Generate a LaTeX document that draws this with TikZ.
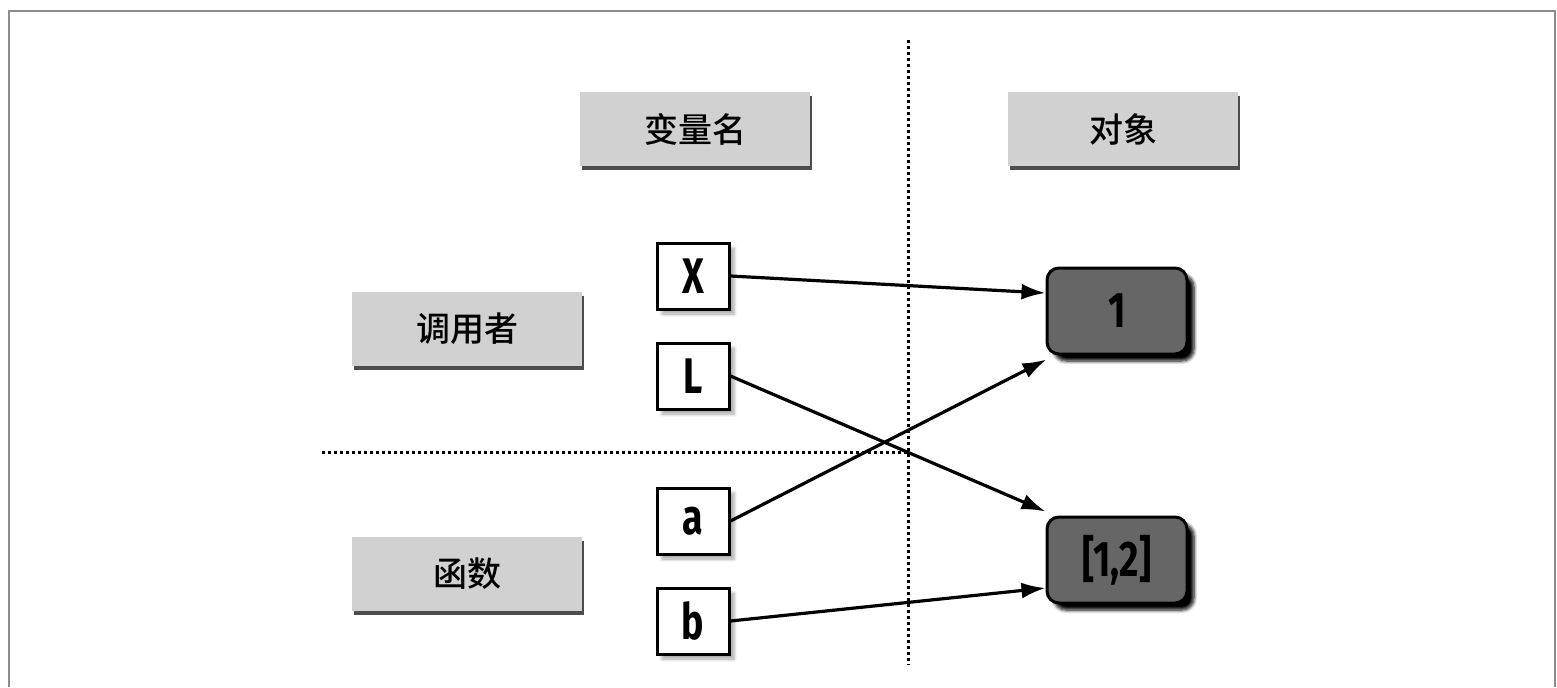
\documentclass[tikz,border=0pt]{standalone}
\usepackage{fontspec}
\newfontfamily\cjk{Noto Sans CJK SC Medium}
\newfontfamily\namefont{Fira Sans Bold}[FakeStretch=0.75]
\usetikzlibrary{arrows.meta,shadows,shadows.blur}
\tikzset{
  headbox/.style={draw=none,fill=black!18,minimum width=115pt,minimum height=37pt,
    font=\cjk\fontsize{17}{20}\selectfont,
    drop shadow={shadow xshift=1.2pt,shadow yshift=-1.8pt,fill=black!70,opacity=1}},
  namebox/.style={draw,line width=1.5pt,fill=white,minimum width=36pt,minimum height=33pt,
    inner sep=0pt,font=\namefont\fontsize{25}{28}\selectfont,
    blur shadow={shadow xshift=2.5pt,shadow yshift=-2.5pt,shadow blur steps=5,shadow opacity=35}},
  objbox/.style={draw,line width=1.5pt,fill=black!60,rounded corners=6pt,minimum width=70pt,
    minimum height=43pt,inner sep=0pt,font=\namefont\fontsize{25}{28}\selectfont,
    blur shadow={shadow xshift=3.5pt,shadow yshift=-3.5pt,shadow blur steps=6,shadow opacity=100}},
  ref/.style={line width=1.6pt,-{Latex[length=12pt,width=8pt]}},
  divider/.style={line width=1.5pt,dash pattern=on 1.4pt off 1.6pt}
}
\begin{document}
\begin{tikzpicture}[x=0.5pt,y=0.5pt,yscale=-1,xscale=1]
\useasboundingbox (0,0) rectangle (1557,687);

%Frame
\draw [color=black!45,line width=1.2pt] (9,687) -- (9,11) -- (1555,11) -- (1555,687) ;

%Dotted Lines
\draw [divider] (908,40) -- (908,665) ;
\draw [divider] (322,452) -- (908,452) ;

% Headings
\node [headbox] (names) at (695,129) {变量名};
\node [headbox] (objects) at (1123,129) {对象};
\node [headbox] (caller) at (467,329) {调用者};
\node [headbox] (func) at (467,574) {函数};

% Variable Names
\node [namebox] (x) at (693,276) {X};
\node [namebox] (l) at (693,376) {L};
\node [namebox] (a) at (693,521) {a};
\node [namebox] (b) at (693,621) {b};

% Objects
\node [objbox] (one) at (1117,311) {1};
\node [objbox] (list) at (1117,560) {[1,2]};

% References
\draw [ref] (x.east) -- ([yshift=-9pt]one.west) ;
\draw [ref] (l.east) -- ([yshift=-2pt]list.north west) ;
\draw [ref] (a.east) -- ([xshift=0.5pt,yshift=2pt]one.south west) ;
\draw [ref] (b.east) -- ([yshift=14pt]list.west) ;

\end{tikzpicture}
\end{document}
